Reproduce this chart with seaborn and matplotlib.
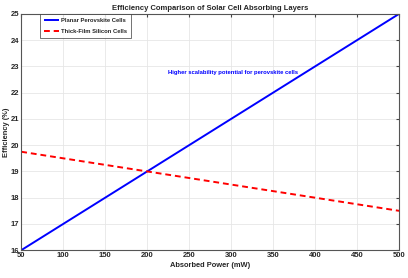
import pandas as pd
import matplotlib.pyplot as plt
import seaborn as sns

# Data ---------------------------------------------------------------------
power_mw = [50, 100, 150, 200, 250, 300, 350, 400, 450, 500]
perovskite_eff = [16, 17, 18, 19, 20, 21, 22, 23, 24, 25]
silicon_eff = [19.75, 19.5, 19.25, 19, 18.75, 18.5, 18.25, 18, 17.75, 17.5]

x_ticks = [50, 100, 150, 200, 250, 300, 350, 400, 450, 500]
y_ticks = [16, 17, 18, 19, 20, 21, 22, 23, 24, 25]

df = pd.DataFrame({
    "power": power_mw * 2,
    "eff": perovskite_eff + silicon_eff,
    "cell": ["Planar Perovskite Cells"] * len(power_mw) + ["Thick-Film Silicon Cells"] * len(power_mw),
})

# Plot ---------------------------------------------------------------------
sns.set_style("whitegrid")
plt.rcParams["font.family"] = ["Liberation Sans", "DejaVu Sans"]
plt.rcParams["font.weight"] = "bold"

fig, ax = plt.subplots(figsize=(4.08, 2.78), dpi=100)
fig.subplots_adjust(left=0.052, right=0.978, top=0.95, bottom=0.1)

sns.lineplot(
    data=df, x="power", y="eff", hue="cell", style="cell",
    palette=["#0000ff", "#ff0000"], dashes=[(1, 0), (3, 2)],
    linewidth=1.4, ax=ax,
)

ax.text(302, 22.75, "Higher scalability potential for perovskite cells",
        color="#0000ff", fontsize=4.2, fontweight="bold", ha="center", va="center")

ax.set_xlim(50, 500)
ax.set_ylim(16, 25)
ax.set_xticks(x_ticks)
ax.set_yticks(y_ticks)
ax.tick_params(labelsize=5.5, length=2, direction="in", top=True, right=True,
               color="#444444", pad=1.5)
ax.grid(color="#e6e6e6", linewidth=0.6)
for s in ax.spines.values():
    s.set_color("#555555")
    s.set_linewidth(0.8)

ax.set_title("Efficiency Comparison of Solar Cell Absorbing Layers",
             fontsize=5.5, fontweight="bold", pad=3)
ax.set_xlabel("Absorbed Power (mW)", fontsize=5.4, fontweight="bold", labelpad=2)
ax.set_ylabel("Efficiency (%)", fontsize=5.4, fontweight="bold", labelpad=0.5)

leg = ax.legend(loc="upper left", bbox_to_anchor=(0.05, 1.0), fontsize=4.2,
                frameon=True, fancybox=False, handlelength=2.6, borderpad=0.7,
                labelspacing=1.0, handletextpad=0.3, borderaxespad=0)
leg.get_frame().set_edgecolor("#333333")
leg.get_frame().set_linewidth(0.6)

fig.savefig("out.png", dpi=100)
